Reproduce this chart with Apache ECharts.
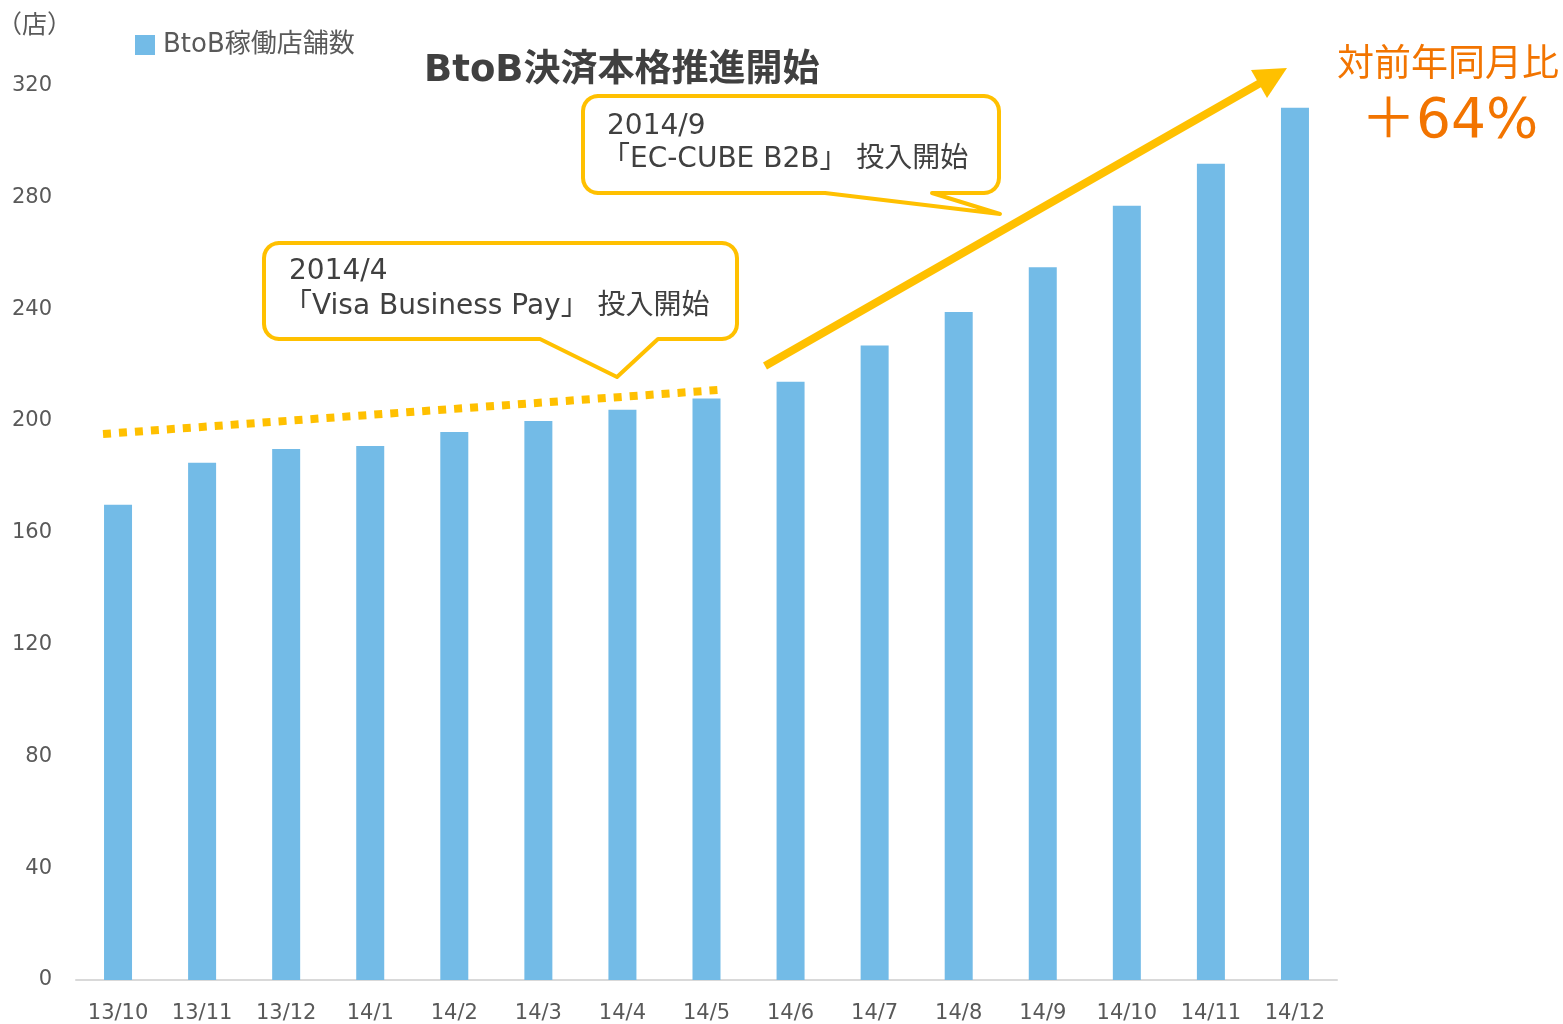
<!DOCTYPE html>
<html>
<head>
<meta charset="utf-8">
<title>BtoB稼働店舗数</title>
<script src="https://cdn.jsdelivr.net/npm/echarts@6/dist/echarts.min.js"></script>
<style>
  html, body { margin: 0; padding: 0; background: #fff; }
  #chart { width: 1563px; height: 1024px; }
</style>
</head>
<body>
<div id="chart"></div>
<script>
// data
const months = ['13/10', '13/11', '13/12', '14/1', '14/2', '14/3', '14/4', '14/5',
  '14/6', '14/7', '14/8', '14/9', '14/10', '14/11', '14/12']
const storeCounts = [170, 185, 190, 191, 196, 200, 204, 208, 214, 227, 239, 255, 277, 292, 312]
const seriesName = 'BtoB稼働店舗数'
const yMin = 0
const yMax = 320
const yStep = 40

const FONT = "'DejaVu Sans', 'Noto Sans CJK JP', sans-serif"
const YELLOW = '#FFC000'
const ORANGE = '#F27400'
const TEXT = '#404040'

// rounded box with a pointer on the bottom edge -> polygon points
function bubblePoints (x0, y0, x1, y1, r, baseL, baseR, tip) {
  let pts = []
  let arc = (cx, cy, a0) => {
    for (let i = 0; i <= 6; i++) {
      let a = (a0 + i * 15) * Math.PI / 180
      pts.push([cx + r * Math.cos(a), cy + r * Math.sin(a)])
    }
  }
  arc(x0 + r, y0 + r, 180)
  arc(x1 - r, y0 + r, 270)
  arc(x1 - r, y1 - r, 0)
  pts.push([baseR, y1], tip, [baseL, y1])
  arc(x0 + r, y1 - r, 90)
  return pts
}

let myechart = echarts.init(document.getElementById('chart'))
myechart.setOption({
  animation: false,
  textStyle: { fontFamily: FONT },
  title: {
    text: 'BtoB決済本格推進開始',
    left: 419,
    top: 48,
    textStyle: { fontSize: 37, fontWeight: 'bold', color: TEXT, fontFamily: FONT }
  },
  legend: {
    data: [seriesName],
    left: 130,
    top: 27,
    icon: 'rect',
    itemWidth: 20,
    itemHeight: 20,
    textStyle: { fontSize: 26, color: '#595959', fontFamily: FONT, padding: [0, 0, 0, 3] }
  },
  grid: { left: 76, right: 226, top: 85.5, bottom: 42.5, containLabel: false },
  xAxis: {
    type: 'category',
    data: months,
    axisTick: { show: false },
    axisLine: { lineStyle: { color: '#D9D9D9', width: 2 } },
    axisLabel: { fontSize: 21, color: '#595959', margin: 23, interval: 0, fontFamily: FONT }
  },
  yAxis: {
    type: 'value',
    min: yMin,
    max: yMax,
    interval: yStep,
    splitLine: { show: false },
    axisLine: { show: false },
    axisTick: { show: false },
    axisLabel: { fontSize: 21, color: '#595959', margin: 24, padding: [0, 0, 6, 0], fontFamily: FONT }
  },
  series: [
    {
      name: seriesName,
      type: 'bar',
      data: storeCounts,
      barWidth: 28,
      itemStyle: { color: '#73BBE7' }
    }
  ],
  graphic: [
    { type: 'text', left: -3, top: 14, style: { text: '（店）', fontSize: 25, fill: '#595959', fontFamily: FONT } },
    // dotted trend before
    { type: 'line', z: 10, shape: { x1: 103, y1: 434, x2: 718, y2: 390 },
      style: { stroke: YELLOW, lineWidth: 8, lineDash: [8, 8] } },
    // growth arrow
    { type: 'line', z: 10, shape: { x1: 765, y1: 366, x2: 1262, y2: 82 },
      style: { stroke: YELLOW, lineWidth: 8 } },
    { type: 'polygon', z: 10, shape: { points: [[1287, 68], [1267, 98], [1251, 70]] },
      style: { fill: YELLOW } },
    // bubbles
    { type: 'polygon', z: 11, shape: { points: bubblePoints(583, 96, 999, 193, 15, 825, 932, [1000, 214]) },
      style: { fill: '#fff', stroke: YELLOW, lineWidth: 4, lineJoin: 'round' } },
    { type: 'text', z: 12, left: 607, top: 113,
      style: { text: '2014/9', fontSize: 28, fill: TEXT, fontFamily: FONT } },
    { type: 'text', z: 12, left: 602, top: 146,
      style: { text: '「EC-CUBE B2B」 投入開始', fontSize: 28, fill: TEXT, fontFamily: FONT } },
    { type: 'polygon', z: 11, shape: { points: bubblePoints(264, 243, 737, 339, 15, 540, 658, [617, 377]) },
      style: { fill: '#fff', stroke: YELLOW, lineWidth: 4, lineJoin: 'round' } },
    { type: 'text', z: 12, left: 289, top: 258,
      style: { text: '2014/4', fontSize: 28, fill: TEXT, fontFamily: FONT } },
    { type: 'text', z: 12, left: 284, top: 293,
      style: { text: '「Visa Business Pay」 投入開始', fontSize: 28, fill: TEXT, fontFamily: FONT } },
    // yoy
    { type: 'text', left: 1337, top: 48,
      style: { text: '対前年同月比', fontSize: 37, fill: ORANGE, fontFamily: FONT } },
    { type: 'text', left: 1361, top: 95,
      style: { text: '＋64%', fontSize: 55, fill: ORANGE, fontFamily: FONT } }
  ]
})
window.addEventListener('resize', () => myechart.resize())
</script>
</body>
</html>
